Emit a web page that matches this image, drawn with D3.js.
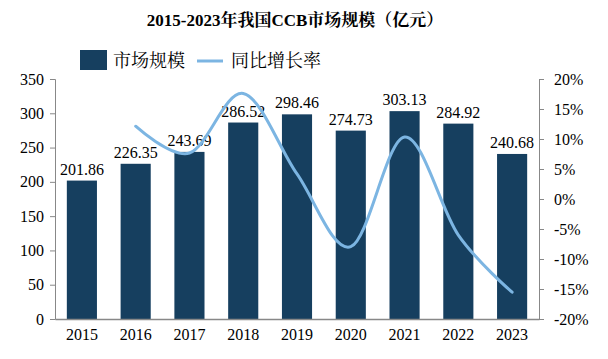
<!DOCTYPE html>
<html><head><meta charset="utf-8">
<script src="https://cdn.jsdelivr.net/npm/d3@7"></script>
<style>body{margin:0;background:#fff}svg{display:block}</style>
</head><body>
<svg id="c" width="608" height="359"></svg>
<script>
const years = ["2015","2016","2017","2018","2019","2020","2021","2022","2023"];
const marketSize = [201.86,226.35,243.69,286.52,298.46,274.73,303.13,284.92,240.68];
const growthYears = ["2016","2017","2018","2019","2020","2021","2022","2023"];
const growthRate = [12.13,7.66,17.58,4.17,-7.95,10.34,-6.01,-15.53];
const leftTicks = [0,50,100,150,200,250,300,350];
const rightTicks = [-20,-15,-10,-5,0,5,10,15,20];

const svg = d3.select("#c");
const serif = "'Liberation Serif','Times New Roman','Noto Serif CJK SC','Noto Sans CJK SC',serif";
const L = 55, R = 539, T = 79, B = 319;
const barColor = "#163f5f", lineColor = "#7cb5e2", axisColor = "#888";

const x = d3.scaleBand().domain(years).range([L, R]).paddingInner(0.44).paddingOuter(0.22);
const y = d3.scaleLinear().domain([0,350]).range([B, T]);
const y2 = d3.scaleLinear().domain([-20,20]).range([B, T]);

// title
svg.append("text").attr("x", 295).attr("y", 26).attr("text-anchor","middle")
  .attr("font-family", serif).attr("font-weight","bold").attr("font-size",17).attr("fill","#000")
  .text("2015-2023年我国CCB市场规模（亿元）");

// legend
svg.append("rect").attr("x",80).attr("y",50).attr("width",27).attr("height",20).attr("fill",barColor);
svg.append("text").attr("x",113).attr("y",67).attr("font-family", serif).attr("font-size",18).text("市场规模");
svg.append("line").attr("x1",197).attr("x2",223).attr("y1",61).attr("y2",61).attr("stroke",lineColor).attr("stroke-width",3);
svg.append("text").attr("x",231).attr("y",67).attr("font-family", serif).attr("font-size",18).text("同比增长率");

// bars
svg.append("g").selectAll("rect").data(years).join("rect")
  .attr("x", d => x(d)).attr("width", x.bandwidth())
  .attr("y", (d,i) => y(marketSize[i])).attr("height", (d,i) => B - y(marketSize[i]))
  .attr("fill", barColor);

// value labels
svg.append("g").selectAll("text").data(years).join("text")
  .attr("x", d => x(d) + x.bandwidth()/2).attr("y", (d,i) => y(marketSize[i]) - 6)
  .attr("text-anchor","middle").attr("font-family", serif).attr("font-size",16).attr("fill","#000")
  .text((d,i) => marketSize[i].toFixed(2));

// axes
function styleAxis(g){
  g.selectAll("path,line").attr("stroke", axisColor);
  g.selectAll("text").attr("font-family", serif).attr("font-size",16).attr("fill","#000");
}
const ax = svg.append("g").attr("transform",`translate(${L},0)`)
  .call(d3.axisLeft(y).tickValues(leftTicks).tickSize(5).tickSizeOuter(5).tickPadding(6));
styleAxis(ax);
const ax2 = svg.append("g").attr("transform",`translate(${R},0)`)
  .call(d3.axisRight(y2).tickValues(rightTicks).tickSize(5).tickSizeOuter(5).tickPadding(10).tickFormat(d => d + "%"));
styleAxis(ax2);
const axb = svg.append("g").attr("transform",`translate(0,${B})`)
  .call(d3.axisBottom(x).tickSize(0).tickPadding(10));
styleAxis(axb);
axb.select(".domain").attr("stroke-width",1.5);

// line
const line = d3.line().x((d,i) => x(growthYears[i]) + x.bandwidth()/2).y(d => y2(d))
  .curve(d3.curveCatmullRom.alpha(0));
svg.append("path").datum(growthRate).attr("d", line)
  .attr("fill","none").attr("stroke", lineColor).attr("stroke-width",3).attr("stroke-linecap","round");
</script>
</body></html>
